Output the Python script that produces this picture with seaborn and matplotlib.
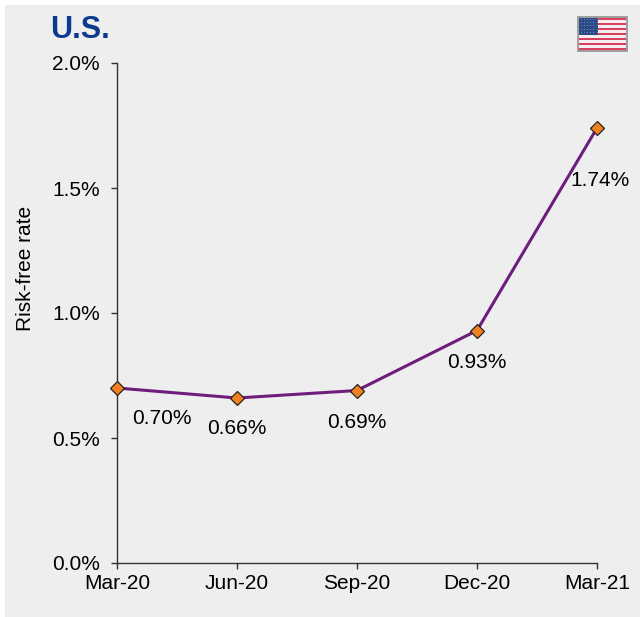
import matplotlib
matplotlib.use("Agg")
import matplotlib.pyplot as plt
from matplotlib.patches import Rectangle, Circle
import seaborn as sns
import pandas as pd

quarters = ["Mar-20", "Jun-20", "Sep-20", "Dec-20", "Mar-21"]
rates = [0.70, 0.66, 0.69, 0.93, 1.74]
labels = ["0.70%", "0.66%", "0.69%", "0.93%", "1.74%"]
# label offsets from each point, in pixels
label_dx = [45, 0, 0, 0, 3]
label_dy = [-30, -31, -32, -32, -52]
yticks = [0.0, 0.5, 1.0, 1.5, 2.0]
ytick_labels = ["0.0%", "0.5%", "1.0%", "1.5%", "2.0%"]

W, H = 640, 617
BG = "#eeeeee"
sns.set_theme(style="white")
plt.rcParams["font.family"] = ["Liberation Sans", "DejaVu Sans"]

fig = plt.figure(figsize=(W / 100, H / 100), dpi=100, facecolor="white")
fig.add_artist(Rectangle((5 / W, 0), 635 / W, 612 / H, transform=fig.transFigure,
                         facecolor=BG, edgecolor="none", zorder=-10))
ax = fig.add_axes([117 / W, 1 - 563 / H, 480 / W, 500 / H])
ax.patch.set_alpha(0)

df = pd.DataFrame({"q": quarters, "x": range(len(quarters)), "rate": rates})
sns.lineplot(data=df, x="x", y="rate", ax=ax, color="#6f1d7d", linewidth=2.2, zorder=3,
             marker="D", markersize=7.2, markerfacecolor="#f08020", markeredgecolor="#222222",
             markeredgewidth=0.9, clip_on=False, errorbar=None)
ax.set_xlim(0, 4)
ax.set_ylim(0, 2)
ax.set_xticks(range(len(quarters)), quarters)
ax.set_yticks(yticks, ytick_labels)
ax.set_xlabel("")
ax.set_ylabel("")
ax.tick_params(axis="x", bottom=True, direction="out", length=4.3, width=1, color="#333333",
               labelsize=15, pad=3.5, labelcolor="black")
ax.tick_params(axis="y", left=True, direction="out", length=4.3, width=1, color="#333333",
               labelsize=15, pad=8, labelcolor="black")
for s in ["top", "right"]:
    ax.spines[s].set_visible(False)
for s in ["left", "bottom"]:
    ax.spines[s].set_color("#333333")
    ax.spines[s].set_linewidth(1)

fig.text(26 / W, 1 - 268 / H, "Risk-free rate", fontsize=15, color="black", rotation=90,
         ha="center", va="center")

for i, (v, t, dx, dy) in enumerate(zip(rates, labels, label_dx, label_dy)):
    ax.annotate(t, (i, v), xytext=(dx * 0.72, dy * 0.72), textcoords="offset points",
                ha="center", va="center", fontsize=15, color="black", annotation_clip=False)

fig.text(50 / W, 1 - 30 / H, "U.S.", fontsize=22, fontweight="bold", color="#0b3a8f",
         ha="left", va="center")

# flag decoration
fx0, fy0, fw, fh = 578, 17, 49, 34
fig.add_artist(Rectangle((fx0 / W, 1 - (fy0 + fh) / H), fw / W, fh / H, transform=fig.transFigure,
                         facecolor="#f4eef0", edgecolor="#909090", linewidth=1.2))
sh = (fh - 2) / 13
for k in range(0, 13, 2):
    fig.add_artist(Rectangle(((fx0 + 1) / W, 1 - (fy0 + 1 + (k + 1) * sh) / H), (fw - 2) / W, sh / H,
                             transform=fig.transFigure, facecolor="#d8405e", edgecolor="none"))
fig.add_artist(Rectangle(((fx0 + 1) / W, 1 - (fy0 + 18) / H), 19 / W, 17 / H, transform=fig.transFigure,
                         facecolor="#2c4a86", edgecolor="none"))
for r in range(5):
    for c in range(6):
        px = fx0 + 2.5 + c * 3.2
        py = fy0 + 3 + r * 3.2
        fig.add_artist(Rectangle((px / W, 1 - py / H), 1 / W, 1 / H, transform=fig.transFigure,
                                 facecolor="#6f86b4", edgecolor="none"))
fig.savefig("out.png", dpi=100, facecolor="white")
